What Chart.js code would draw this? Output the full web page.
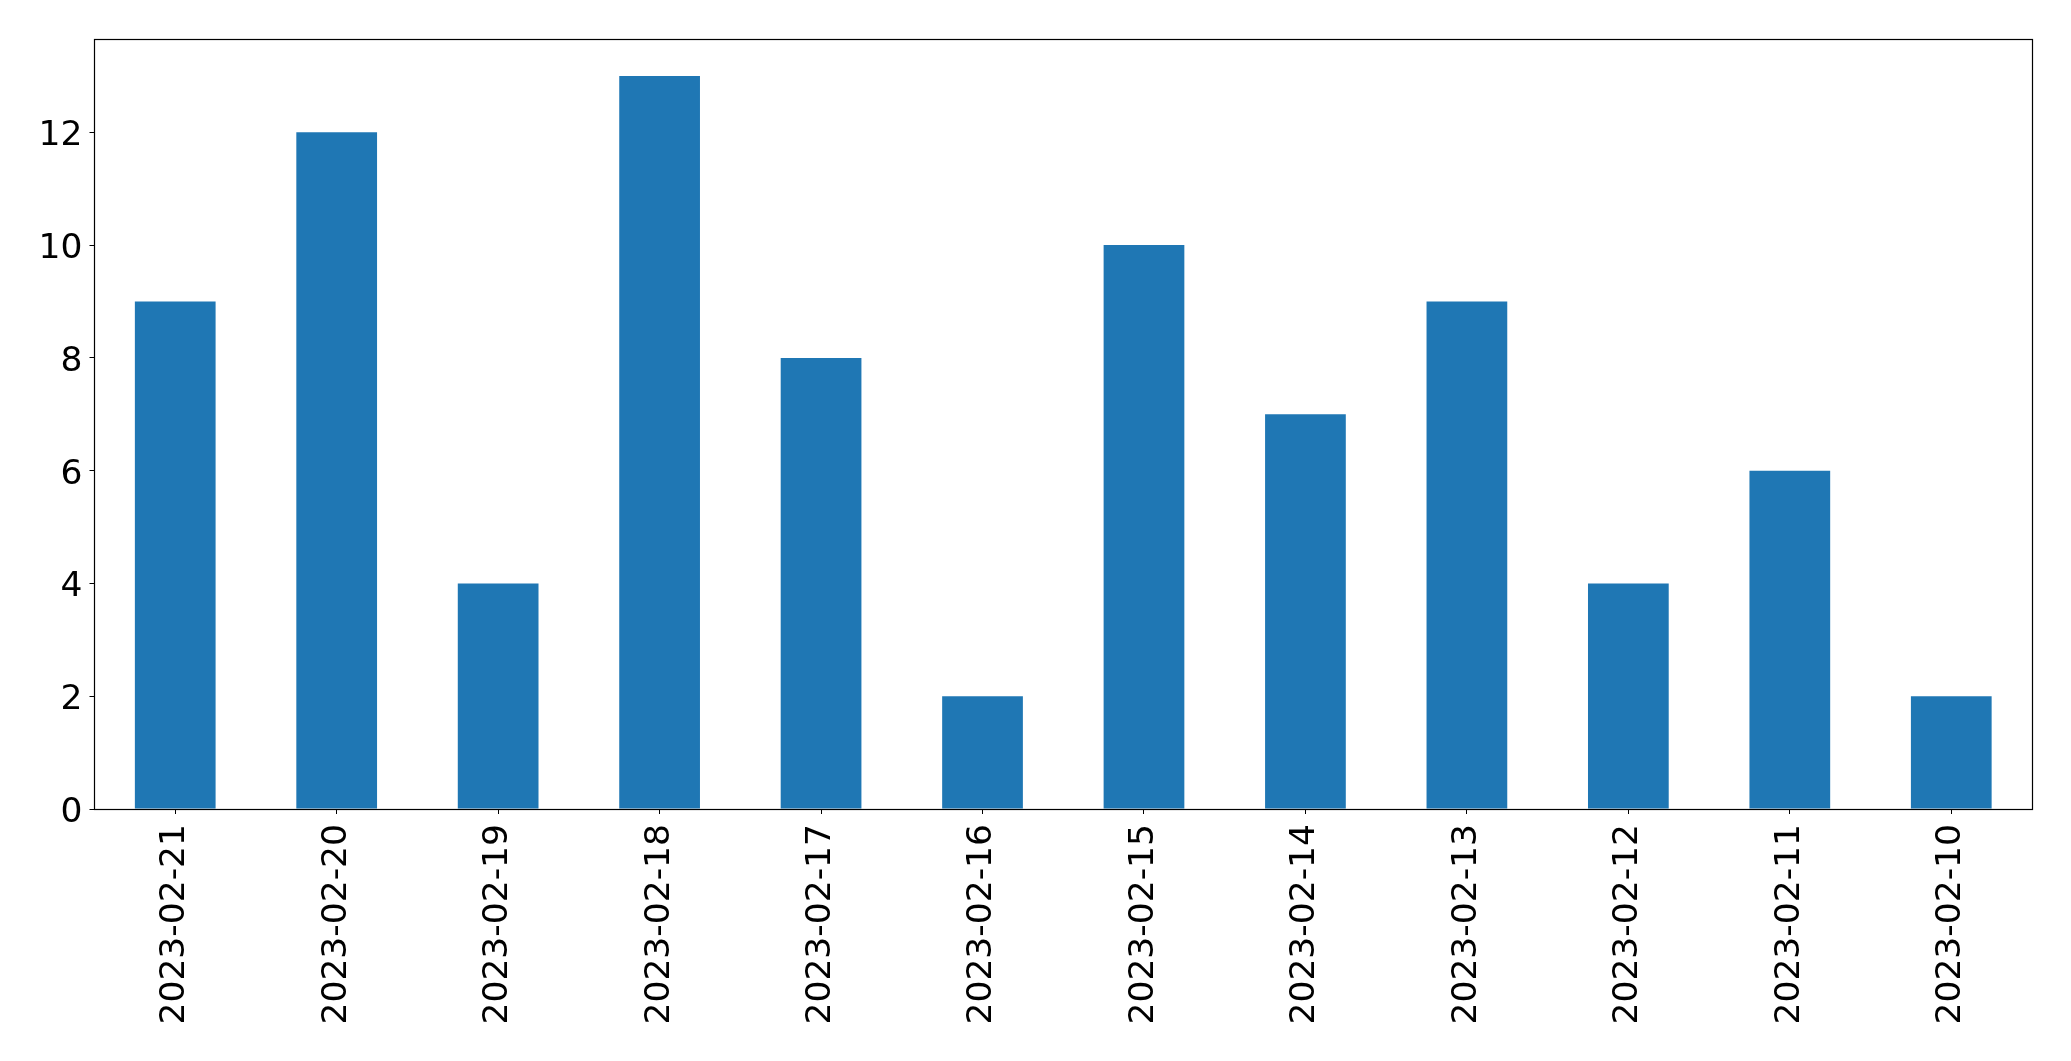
<!DOCTYPE html>
<html>
<head>
<meta charset="utf-8">
<script src="https://cdn.jsdelivr.net/npm/chart.js@4.4.0/dist/chart.umd.min.js"></script>
<style>
html,body{margin:0;padding:0;background:#fff;}
#wrap{width:2071px;height:1061px;position:relative;}
</style>
</head>
<body>
<div id="wrap"><canvas id="c" width="2071" height="1061"></canvas></div>
<script>
const categories = ["2023-02-21","2023-02-20","2023-02-19","2023-02-18","2023-02-17","2023-02-16","2023-02-15","2023-02-14","2023-02-13","2023-02-12","2023-02-11","2023-02-10"];
const counts = [9,12,4,13,8,2,10,7,9,4,6,2];
const yTicks = [0,2,4,6,8,10,12];
const yMax = 13.65;

const frame = {
  id:'frame',
  afterDraw(chart){
    const {ctx, chartArea:a} = chart;
    const l = Math.floor(a.left)+0.5, r = Math.floor(a.right)+0.5;
    const t = Math.floor(a.top)+0.5, b = Math.floor(a.bottom)+0.5;
    ctx.save();
    ctx.strokeStyle='#000';
    ctx.lineWidth=1.2;
    ctx.strokeRect(l, t, r-l, b-t);
    ctx.restore();
  }
};

new Chart(document.getElementById('c'), {
  type:'bar',
  data:{labels:categories, datasets:[{data:counts, backgroundColor:'#1f77b4', borderWidth:0, barPercentage:0.5, categoryPercentage:1.0}]},
  options:{
    responsive:false, animation:false,
    layout:{padding:{left:0, top:39.3, right:39, bottom:0}},
    plugins:{legend:{display:false}, tooltip:{enabled:false}},
    scales:{
      x:{
        offset:true,
        grid:{display:true, drawOnChartArea:false, drawTicks:true, tickLength:5, color:'#000', offset:false},
        border:{display:true, color:'#000', width:1},
        ticks:{color:'#000', font:{family:'DejaVu Sans', size:34.5}, minRotation:90, maxRotation:90, autoSkip:false, padding:10},
        afterFit(s){ s.height = 252; }
      },
      y:{
        min:0, max:yMax,
        grid:{display:true, drawOnChartArea:false, drawTicks:true, tickLength:5, color:'#000'},
        border:{display:true, color:'#000', width:1},
        ticks:{color:'#000', font:{family:'DejaVu Sans', size:34.5}, padding:7, labelOffset:4},
        afterBuildTicks(s){ s.ticks = yTicks.map(v=>({value:v})); },
        afterFit(s){ s.width = 94.5; }
      }
    }
  },
  plugins:[frame]
});
</script>
</body>
</html>
